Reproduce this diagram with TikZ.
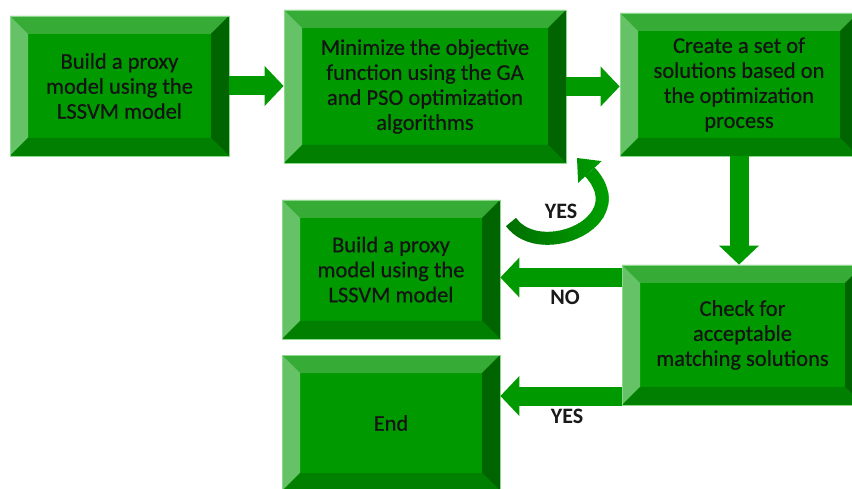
\documentclass[tikz,border=0pt]{standalone}
\usepackage{fontspec}
\setmainfont{Carlito}
\newfontfamily\boxfont{Carlito}[FakeBold=0.5]
\usetikzlibrary{arrows.meta,calc}

\definecolor{face}{HTML}{009900}
\definecolor{bevtop}{HTML}{36AB36}
\definecolor{bevleft}{HTML}{66C266}
\definecolor{bevright}{HTML}{006400}
\definecolor{bevbottom}{HTML}{007F00}
\definecolor{rim}{HTML}{8ED88E}
\definecolor{curvedark}{HTML}{006C00}
\definecolor{curvebright}{HTML}{00A400}

\tikzset{
  bevelbox/.style={
    fill=face, draw=rim, line width=0.8pt, inner sep=0pt,
    align=center, font=\boxfont\fontsize{22.5}{25}\selectfont, text=black!92,
    path picture={
      \path (path picture bounding box.north west) coordinate (oNW)
            (path picture bounding box.north east) coordinate (oNE)
            (path picture bounding box.south east) coordinate (oSE)
            (path picture bounding box.south west) coordinate (oSW);
      \path ($(oNW)+(18pt,-18pt)$) coordinate (iNW)
            ($(oNE)+(-18pt,-18pt)$) coordinate (iNE)
            ($(oSE)+(-18pt,18pt)$) coordinate (iSE)
            ($(oSW)+(18pt,18pt)$) coordinate (iSW);
      \fill[bevtop] (oNW) -- (oNE) -- (iNE) -- (iNW) -- cycle;
      \fill[bevleft] (oNW) -- (iNW) -- (iSW) -- (oSW) -- cycle;
      \fill[bevright] (oNE) -- (oSE) -- (iSE) -- (iNE) -- cycle;
      \fill[bevbottom] (oSW) -- (iSW) -- (iSE) -- (oSE) -- cycle;
    }},
  blockarrow/.style={
    draw=face, line width=19pt,
    -{Triangle[length=19pt,width=40pt,line width=0pt]}},
  lbl/.style={font=\fontsize{22}{24}\selectfont\bfseries, text=black!90},
}

\begin{document}
\begin{tikzpicture}[x=1pt,y=-1pt]
  \clip (0,0) rectangle (852,489);
  \fill[white] (0,0) rectangle (852,489);

  % process boxes
  \node[bevelbox, minimum width=219pt, minimum height=140pt] (b1) at (119.5,86)
    {Build a proxy\\model using the\\LSSVM model};
  \node[bevelbox, minimum width=282pt, minimum height=153pt] (b2) at (425,86.5)
    {Minimize the objective\\function using the GA\\and PSO optimization\\algorithms};
  \node[bevelbox, minimum width=238pt, minimum height=143pt] (b3) at (739,84.5)
    {Create a set of\\solutions based on\\the optimization\\process};
  \node[bevelbox, minimum width=218pt, minimum height=139pt] (b4) at (391,269.5)
    {Build a proxy\\model using the\\LSSVM model};
  \node[bevelbox, minimum width=241pt, minimum height=140pt] (b5) at (742.5,335)
    {Check for\\acceptable\\matching solutions};
  \node[bevelbox, minimum width=218pt, minimum height=136pt] (b6) at (391,423)
    {End};

  % straight connectors
  \draw[blockarrow] (b1.east) -- (b1.east -| b2.west);
  \draw[blockarrow] (b2.east) -- (b2.east -| b3.west);
  \draw[blockarrow] (b3.south) -- (b3.south |- b5.north);
  \coordinate (noY) at ($(b4.east)+(0,8)$);
  \draw[blockarrow] (noY -| b5.west) -- (noY);
  \coordinate (yesY) at ($(b6.east)+(0,-27)$);
  \draw[blockarrow] (yesY -| b5.west) -- (yesY);

  % curved YES connector back to the optimisation step
  \coordinate (cs) at (511,222);
  \coordinate (ce) at (577,158);
  \foreach \i in {0,...,24}{
    \pgfmathsetmacro{\xa}{498+5*\i}
    \pgfmathsetmacro{\pc}{min(100,4.2*\i)}
    \colorlet{strip}{curvebright!\pc!curvedark}
    \begin{scope}
      \clip (\xa,140) rectangle (\xa+5.6,262);
      \draw[strip, line width=13pt,
            -{Triangle[length=19pt,width=32pt,line width=0pt]}]
        (cs) .. controls (540,262) and (636,222) .. (ce);
    \end{scope}
  }

  % branch labels
  \node[lbl] (lyes1) at (561,211) {YES};
  \node[lbl] (lno) at (565,297) {NO};
  \node[lbl] (lyes2) at (567,416) {YES};
\end{tikzpicture}
\end{document}
